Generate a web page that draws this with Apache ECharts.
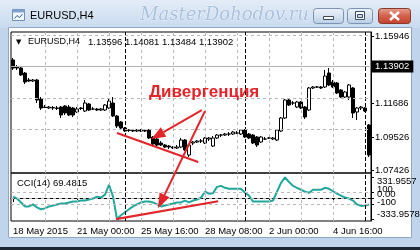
<!DOCTYPE html>
<html><head><meta charset="utf-8">
<script src="https://cdn.jsdelivr.net/npm/echarts@6/dist/echarts.min.js"></script>
<style>html,body{margin:0;padding:0;background:#fff}#c{width:420px;height:250px}</style>
</head><body><div id="c"></div>
<script>
// ---- data ----
const barOpen = [1.14420,1.13975,1.13911,1.13593,1.13148,1.13084,1.13148,1.11940,1.11431,1.11367,
1.11399,1.11367,1.11431,1.11494,1.11431,1.11367,1.11113,1.11367,1.11176,1.11622,
1.11304,1.11304,1.11240,1.11240,1.11367,1.11685,1.10858,1.10477,1.10095,1.09968,
1.09936,1.09904,1.09968,1.09904,1.09968,1.09523,1.09396,1.09141,1.09014,1.08950,
1.08887,1.08823,1.08887,1.09332,1.08378,1.09141,1.09205,1.09268,1.09141,1.09396,
1.08950,1.09459,1.09650,1.09650,1.09714,1.09714,1.09777,1.09714,1.09968,1.09714,
1.09650,1.09523,1.09205,1.09396,1.09459,1.09396,1.09332,1.09904,1.10731,1.11876,
1.11685,1.11431,1.11749,1.11431,1.11240,1.12639,1.12703,1.12703,1.12703,1.13593,
1.13021,1.12957,1.12512,1.12067,1.12067,1.12639,1.11113,1.11367,1.11367,1.10286];
const barClose = [1.13911,1.13911,1.13466,1.13021,1.13084,1.13148,1.11876,1.11367,1.11399,1.11431,
1.11367,1.11335,1.10922,1.11049,1.10922,1.10922,1.11304,1.11335,1.11685,1.11240,
1.11300,1.11240,1.11304,1.11558,1.11812,1.10858,1.10222,1.10095,1.09904,1.09936,
1.09904,1.09968,1.09904,1.09936,1.09459,1.09078,1.09014,1.09014,1.08887,1.08887,
1.08823,1.08887,1.09332,1.08696,1.09014,1.09205,1.09268,1.09270,1.09459,1.09459,
1.09459,1.09650,1.09648,1.09714,1.09712,1.09841,1.09775,1.09968,1.09523,1.09459,
1.09141,1.09014,1.09523,1.09394,1.09457,1.09459,1.09968,1.10731,1.11876,1.11558,
1.11683,1.11749,1.11367,1.10795,1.12639,1.12703,1.12701,1.12639,1.13402,1.12830,
1.12703,1.12321,1.12067,1.12385,1.12830,1.11049,1.11367,1.11431,1.11176,1.08378];
const barHigh = [1.14547,1.14102,1.14038,1.13657,1.13275,1.13212,1.13212,1.12067,1.11558,1.11494,
1.11494,1.11494,1.11494,1.11558,1.11558,1.11431,1.11431,1.11431,1.11876,1.11685,
1.11431,1.11367,1.11367,1.11622,1.12003,1.12067,1.10922,1.10540,1.10159,1.10032,
1.10032,1.10032,1.10032,1.10032,1.10032,1.09586,1.09459,1.09268,1.09078,1.09014,
1.08950,1.09014,1.09459,1.09396,1.09078,1.09268,1.09332,1.09396,1.09523,1.09523,
1.09586,1.09714,1.09714,1.09777,1.09841,1.09904,1.09904,1.10032,1.10032,1.09777,
1.09714,1.09586,1.09586,1.09523,1.09523,1.09523,1.10032,1.10795,1.11940,1.12003,
1.11812,1.11812,1.11812,1.11494,1.12703,1.12766,1.12766,1.12766,1.13784,1.13911,
1.13148,1.13021,1.12576,1.12448,1.12894,1.12703,1.11431,1.11494,1.11431,1.10350];
const barLow = [1.13784,1.13784,1.13402,1.12894,1.13021,1.13021,1.11685,1.11240,1.11367,1.11304,
1.11240,1.11240,1.10731,1.10922,1.10858,1.10795,1.11049,1.11240,1.11113,1.11176,
1.11240,1.11176,1.11176,1.11176,1.11304,1.10795,1.10095,1.10032,1.09841,1.09841,
1.09841,1.09841,1.09841,1.09841,1.09396,1.08950,1.08950,1.08950,1.08823,1.08760,
1.08760,1.08760,1.08823,1.08632,1.08251,1.09014,1.09141,1.09141,1.09078,1.09268,
1.08887,1.09396,1.09523,1.09586,1.09586,1.09650,1.09714,1.09650,1.09459,1.09396,
1.09078,1.08887,1.09141,1.09332,1.09396,1.09332,1.09268,1.09841,1.10668,1.11494,
1.11558,1.11367,1.11304,1.10668,1.11176,1.12576,1.12639,1.12576,1.12639,1.12766,
1.12639,1.12258,1.12003,1.12003,1.11876,1.10731,1.10604,1.11240,1.11113,1.08251];
const cciValues = [23,-8,-70,-133,-133,-101,-148,-179,-164,-133,
-117,-101,-86,-86,-70,-55,-55,-39,-39,-23,
-8,23,8,55,211,23,-333.96,-273,-226,-179,
-133,-101,-70,-55,-55,-70,-101,-133,-117,-101,
-86,-70,-70,-39,-70,-39,-23,8,101,70,
78,179,195,164,148,148,148,148,86,39,
-55,-55,-55,-55,-55,-39,101,242,331.96,257,
195,164,133,101,86,133,133,133,164,148,
109,70,39,8,-8,-39,-101,-125,-117,-101];
const priceTicks = [1.15946, 1.11686, 1.09526, 1.07426];
const priceGridLevels = [1.15946, 1.13806, 1.11686, 1.09526, 1.07426];
const bidPrice = 1.13902;
const cciTicks = [331.9557, 100, 0, -100, -333.9578];
const cciTickLabels = ['331.9557', '100', '0.00', '-100', '-333.9578'];
const cciLevels = [100, 0, -100];
const dateTickIndex = [0, 16, 32, 48, 64, 80];
const dateTickLabels = ['18 May 2015', '21 May 00:00', '25 May 16:00', '28 May 08:00', '2 Jun 00:00', '4 Jun 16:00'];
const gridLineIndex = [8, 16, 24, 32, 40, 48, 56, 64, 72, 80];
const separatorIndex = [28, 58, 88];
const windowTitle = 'EURUSD,H4';
const watermark = 'MasterDohodov.ru';
const headerSymbol = 'EURUSD,H4';
const headerOHLC = ['1.13596', '1.14081', '1.13484', '1.13902'];
const cciTitle = 'CCI(14) 69.4815';
const annotationText = 'Дивергенция';
// annotation anchors in data coordinates [bar index, value]
const priceTrend = [[26, 1.09777], [46.3, 1.07933]];
const cciTrend = [[25.75, -335], [51.3, -50]];
const arrowToPrice = [[47.2, 1.1124], [34.6, 1.09396]];
const arrowToCciFrom = [48, 1.11176];   // price pane
const arrowToCciTo = [36.25, -164];     // CCI pane

// ---- chart ----
const cats = barOpen.map((_, i) => String(i));
const FONT = "'Liberation Sans', Arial, sans-serif";
const RED = '#e3252a';
const chart = echarts.init(document.getElementById('c'), null, {renderer: 'canvas'});
const isDateTick = (i) => dateTickIndex.indexOf(i) >= 0;

const vLines = gridLineIndex.map(i => ({xAxis: i, lineStyle: {color: '#b8b8b8', type: [3, 3], width: 1}}))
  .concat(separatorIndex.map(i => ({xAxis: i, lineStyle: {color: '#000', type: [4, 2], width: 1}})));
const mlBase = {silent: true, symbol: ['none', 'none'], label: {show: false}, animation: false};

// small vertical nudges so the crowded CCI scale labels sit as in the terminal
const cciLabelNudge = [4, -2, -3.5, -1.5, -5];
const cciScaleLabels = cciTicks.map((v, k) => ({
  yAxis: v, lineStyle: {color: 'rgba(0,0,0,0)', width: 1, type: 'solid'},
  label: {show: true, position: 'end', distance: 6, offset: [0, cciLabelNudge[k]], formatter: cciTickLabels[k],
          color: '#000', fontSize: 9.5, fontFamily: FONT}
}));

chart.setOption({
  animation: false,
  backgroundColor: '#fff',
  grid: [
    {left: 11, top: 32, width: 360, height: 141, show: true, borderColor: '#000', borderWidth: 1, backgroundColor: 'transparent'},
    {left: 11, top: 173, width: 360, height: 48, show: true, borderColor: '#000', borderWidth: 1, backgroundColor: 'transparent'}
  ],
  xAxis: [
    {type: 'category', gridIndex: 0, data: cats, boundaryGap: true, axisLine: {show: false}, axisTick: {show: false}, axisLabel: {show: false}, splitLine: {show: false}},
    {type: 'category', gridIndex: 1, data: cats, boundaryGap: true,
     axisLine: {show: true, lineStyle: {color: '#000', width: 1}},
     axisTick: {show: true, interval: (i) => isDateTick(i), alignWithLabel: true, length: 4, lineStyle: {color: '#000'}},
     axisLabel: {interval: (i) => isDateTick(i), formatter: (v, i) => dateTickLabels[dateTickIndex.indexOf(i)] || '',
                 align: 'left', margin: 5, fontSize: 9.5, fontFamily: FONT, color: '#000', hideOverlap: false},
     splitLine: {show: false}}
  ],
  yAxis: [
    {type: 'value', gridIndex: 0, position: 'right', min: 1.07235, max: 1.16200, scale: true,
     axisLine: {show: true, lineStyle: {color: '#000'}},
     axisTick: {show: true, customValues: priceTicks, length: 3, lineStyle: {color: '#000'}},
     axisLabel: {customValues: priceTicks, formatter: (v) => v.toFixed(5), margin: 4, fontSize: 9.5, fontFamily: FONT, color: '#000',
                 hideOverlap: false, showMinLabel: true, showMaxLabel: true},
     splitLine: {show: false}},
    {type: 'value', gridIndex: 1, position: 'right', min: -365.9, max: 400.6,
     axisLine: {show: true, lineStyle: {color: '#000'}},
     axisTick: {show: true, customValues: cciTicks, length: 3, lineStyle: {color: '#000'}},
     axisLabel: {show: false},
     splitLine: {show: false}}
  ],
  series: [
    {type: 'line', name: 'priceGrid', xAxisIndex: 0, yAxisIndex: 0, data: [], z: 1, silent: true,
     markLine: Object.assign({}, mlBase, {data: vLines.concat(
        priceGridLevels.map(v => ({yAxis: v, lineStyle: {color: '#b8b8b8', type: [3, 3], width: 1}})),
        [{yAxis: bidPrice, lineStyle: {color: '#b0b0b0', type: 'solid', width: 1},
          label: {show: true, position: 'end', distance: 1, formatter: bidPrice.toFixed(5), backgroundColor: '#000', color: '#fff',
                  padding: [1, 4, 1, 3], fontSize: 9.5, fontFamily: FONT}}])})},
    {type: 'candlestick', name: 'EURUSD,H4', xAxisIndex: 0, yAxisIndex: 0, z: 3, silent: true, barWidth: 3,
     data: barOpen.map((o, i) => [o, barClose[i], barLow[i], barHigh[i]]),
     itemStyle: {color: '#fff', color0: '#000', borderColor: '#000', borderColor0: '#000', borderWidth: 1}},
    {type: 'line', name: 'cciGrid', xAxisIndex: 1, yAxisIndex: 1, data: [], z: 1, silent: true,
     markLine: Object.assign({}, mlBase, {data: vLines.concat(
        cciLevels.map(v => ({yAxis: v, lineStyle: {color: '#b8b8b8', type: [3, 3], width: 1}})),
        cciScaleLabels)})},
    {type: 'line', name: 'CCI(14)', xAxisIndex: 1, yAxisIndex: 1, data: cciValues, z: 3, silent: true,
     symbol: 'none', lineStyle: {color: '#20a89c', width: 2}}
  ]
});

// helpers: data -> pixel through the library's scales (category index interpolated linearly)
function px(grid, pt) {
  const f = {xAxisIndex: grid, yAxisIndex: grid};
  const a = chart.convertToPixel(f, [0, pt[1]]);
  const b = chart.convertToPixel(f, [1, pt[1]]);
  return [a[0] + (b[0] - a[0]) * pt[0], a[1]];
}
function arrow(p0, p1, w, L, hw) {
  const dx = p1[0] - p0[0], dy = p1[1] - p0[1], len = Math.hypot(dx, dy);
  const ux = dx / len, uy = dy / len;
  const bx = p1[0] - ux * L, by = p1[1] - uy * L;
  return [
    {type: 'line', z: 100, shape: {x1: p0[0], y1: p0[1], x2: bx, y2: by}, style: {stroke: RED, lineWidth: w}},
    {type: 'polygon', z: 100, shape: {points: [[p1[0], p1[1]], [bx - uy * hw, by + ux * hw], [bx + uy * hw, by - ux * hw]]}, style: {fill: RED}}
  ];
}
function seg(p0, p1, w) {
  return {type: 'line', z: 100, shape: {x1: p0[0], y1: p0[1], x2: p1[0], y2: p1[1]}, style: {stroke: RED, lineWidth: w}};
}

const blueGrad = {type: 'linear', x: 0, y: 0, x2: 0, y2: 1, colorStops: [{offset: 0, color: '#e3ecf7'}, {offset: 1, color: '#c9dbef'}]};
const btnGrad = {type: 'linear', x: 0, y: 0, x2: 0, y2: 1, colorStops: [{offset: 0, color: '#eef3fa'}, {offset: 0.5, color: '#d6e2f0'}, {offset: 1, color: '#b9cde6'}]};
const closeGrad = {type: 'linear', x: 0, y: 0, x2: 0, y2: 1, colorStops: [{offset: 0, color: '#e8a493'}, {offset: 0.5, color: '#d2604a'}, {offset: 1, color: '#c2412c'}]};

const chrome = [
  {type: 'rect', z: 0, shape: {x: 0, y: 0, width: 420, height: 28}, style: {fill: blueGrad}},
  {type: 'rect', z: 0, shape: {x: 0, y: 28, width: 8, height: 222}, style: {fill: '#c0d5ec'}},
  {type: 'rect', z: 0, shape: {x: 412, y: 28, width: 8, height: 222}, style: {fill: '#c0d5ec'}},
  {type: 'rect', z: 0, shape: {x: 0, y: 238, width: 420, height: 12}, style: {fill: '#c0d5ec'}},
  {type: 'rect', z: 0, shape: {x: 0, y: 247, width: 420, height: 3}, style: {fill: '#1c2633'}},
  {type: 'rect', z: 0, shape: {x: 8.5, y: 27.5, width: 403, height: 210}, style: {fill: 'none', stroke: '#8fa7c4', lineWidth: 1}},
  // window icon
  {type: 'rect', z: 1, shape: {x: 12.5, y: 9.5, width: 12, height: 11}, style: {fill: '#f4f8fc', stroke: '#6f8fb5', lineWidth: 1}},
  {type: 'rect', z: 1, shape: {x: 12.5, y: 9.5, width: 12, height: 3}, style: {fill: '#7fa2cc'}},
  {type: 'polyline', z: 1, shape: {points: [[14.5, 18.5], [17, 15.5], [19.5, 17.5], [22.5, 14]]}, style: {stroke: '#2f5f9a', lineWidth: 1, fill: 'none'}},
  {type: 'text', z: 1, style: {x: 30, y: 16, text: windowTitle, font: "11px " + FONT, fill: '#000', verticalAlign: 'middle'}},
  {type: 'text', z: 1, style: {x: 140, y: 15, text: watermark, font: "italic 18px 'DejaVu Serif', serif", fill: '#a9c1de', stroke: '#ffffff', lineWidth: 0.6, verticalAlign: 'middle'}},
  // buttons
  {type: 'rect', z: 1, shape: {x: 313.5, y: 8.5, width: 30, height: 15, r: 3}, style: {fill: btnGrad, stroke: '#7d93b2', lineWidth: 1}},
  {type: 'rect', z: 2, shape: {x: 323.5, y: 16.5, width: 10, height: 3}, style: {fill: '#fff', stroke: '#394a63', lineWidth: 1}},
  {type: 'rect', z: 1, shape: {x: 347.5, y: 8.5, width: 25, height: 15, r: 3}, style: {fill: btnGrad, stroke: '#7d93b2', lineWidth: 1}},
  {type: 'rect', z: 2, shape: {x: 355.5, y: 11.5, width: 9, height: 8}, style: {fill: '#fff', stroke: '#394a63', lineWidth: 1}},
  {type: 'rect', z: 2, shape: {x: 357.5, y: 14.5, width: 5, height: 3}, style: {fill: '#cfdcec', stroke: '#394a63', lineWidth: 1}},
  {type: 'rect', z: 1, shape: {x: 378.5, y: 8.5, width: 32, height: 15, r: 3}, style: {fill: closeGrad, stroke: '#8a3a2c', lineWidth: 1}},
  {type: 'line', z: 2, shape: {x1: 390, y1: 12, x2: 399, y2: 20}, style: {stroke: '#fff', lineWidth: 2.4}},
  {type: 'line', z: 2, shape: {x1: 399, y1: 12, x2: 390, y2: 20}, style: {stroke: '#fff', lineWidth: 2.4}},
  // chart header texts
  {type: 'text', z: 5, style: {x: 16, y: 42, text: '▼', font: "7px 'DejaVu Sans', sans-serif", fill: '#000', verticalAlign: 'middle'}},
  {type: 'text', z: 5, style: {x: 28, y: 42, text: headerSymbol, font: "9px " + FONT, fill: '#000', verticalAlign: 'middle'}},
  {type: 'text', z: 5, style: {x: 88, y: 42, text: headerOHLC.join(' '), font: "9.5px " + FONT, fill: '#000', verticalAlign: 'middle'}},
  {type: 'text', z: 5, style: {x: 17, y: 183, text: cciTitle, font: "9.5px " + FONT, fill: '#000', verticalAlign: 'middle'}},
  {type: 'text', z: 100, style: {x: 149, y: 92, text: annotationText, font: "bold 17px " + FONT, fill: RED, verticalAlign: 'middle'}}
];

const ann = [].concat(
  [seg(px(0, priceTrend[0]), px(0, priceTrend[1]), 2)],
  [seg(px(1, cciTrend[0]), px(1, cciTrend[1]), 2.2)],
  arrow(px(0, arrowToPrice[0]), px(0, arrowToPrice[1]), 2, 14, 5.5),
  arrow(px(0, arrowToCciFrom), px(1, arrowToCciTo), 2, 15, 5.5)
);

chart.setOption({graphic: chrome.concat(ann)});
</script>
</body></html>
